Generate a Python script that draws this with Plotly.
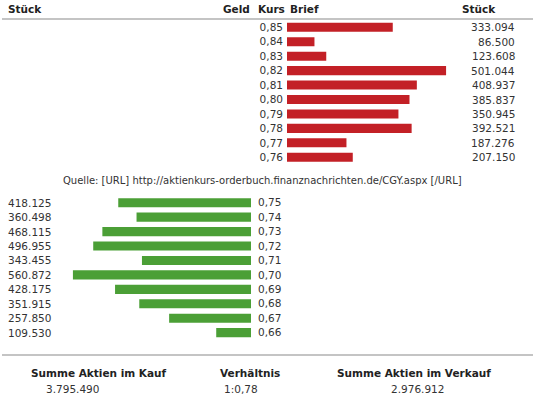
import plotly.graph_objects as go

# Orderbuch (Brief = Verkauf, Geld = Kauf)
brief_kurs = ["0,85", "0,84", "0,83", "0,82", "0,81", "0,80", "0,79", "0,78", "0,77", "0,76"]
brief_stueck = [333094, 86500, 123608, 501044, 408937, 385837, 350945, 392521, 187276, 207150]

geld_kurs = ["0,75", "0,74", "0,73", "0,72", "0,71", "0,70", "0,69", "0,68", "0,67", "0,66"]
geld_stueck = [418125, 360498, 468115, 496955, 343455, 560872, 428175, 351915, 257850, 109530]

summe_kauf = "3.795.490"
summe_verkauf = "2.976.912"
verhaeltnis = "1:0,78"
quelle = "Quelle: [URL] http://aktienkurs-orderbuch.finanznachrichten.de/CGY.aspx [/URL]"

W, H = 535, 406
FONT = "DejaVu Sans"
TXT = "#333333"
RED = "#c32026"
GREEN = "#4b9f36"


def fmt(v):
    return f"{v:,}".replace(",", ".")


def px(x):
    return x / W


def py(y):
    return 1 - y / H


fig = go.Figure()
fig.add_trace(go.Bar(x=brief_stueck, y=brief_kurs, orientation="h",
                     marker=dict(color=RED, line=dict(width=0)),
                     xaxis="x", yaxis="y", hoverinfo="x+y"))
fig.add_trace(go.Bar(x=geld_stueck, y=geld_kurs, orientation="h",
                     marker=dict(color=GREEN, line=dict(width=0)),
                     xaxis="x2", yaxis="y2", hoverinfo="x+y"))

row = 14.44
ann = []
for k, v in zip(brief_kurs, brief_stueck):
    ann.append(dict(x=px(517), y=k, xref="paper", yref="y", text=fmt(v),
                    xanchor="right", showarrow=False))
for k, v in zip(geld_kurs, geld_stueck):
    ann.append(dict(x=px(6), y=k, xref="paper", yref="y2", text=fmt(v),
                    xanchor="left", showarrow=False))

bold = dict(family=FONT, size=10.5, color="#222222")
ann += [
    dict(x=px(6), y=py(9), text="<b>Stück</b>", xanchor="left", font=bold),
    dict(x=px(252), y=py(9), text="<b>Geld</b>", xanchor="right", font=bold),
    dict(x=px(256), y=py(9), text="<b>Kurs</b>", xanchor="left", font=bold),
    dict(x=px(288), y=py(9), text="<b>Brief</b>", xanchor="left", font=bold),
    dict(x=px(498), y=py(9), text="<b>Stück</b>", xanchor="right", font=bold),
    dict(x=px(262), y=py(181), text=quelle, xanchor="center", font=dict(family=FONT, size=10, color=TXT)),
    dict(x=px(99), y=py(373), text="<b>Summe Aktien im Kauf</b>", xanchor="center", font=bold),
    dict(x=px(44), y=py(389), text=summe_kauf, xanchor="left"),
    dict(x=px(250), y=py(373), text="<b>Verhältnis</b>", xanchor="center", font=bold),
    dict(x=px(222), y=py(389), text=verhaeltnis, xanchor="left"),
    dict(x=px(414), y=py(373), text="<b>Summe Aktien im Verkauf</b>", xanchor="center", font=bold),
    dict(x=px(417), y=py(389), text=summe_verkauf, xanchor="center"),
]
for a in ann[20:]:
    a.setdefault("xref", "paper")
    a.setdefault("yref", "paper")
    a["showarrow"] = False
    a["yanchor"] = "middle"

line = dict(color="#c4c4c4", width=2)
shapes = [
    dict(type="line", xref="paper", yref="paper", x0=px(2), x1=px(533), y0=py(19), y1=py(19), line=line),
    dict(type="line", xref="paper", yref="paper", x0=px(2), x1=px(533), y0=py(355), y1=py(355), line=line),
]

scale = 0.3175 / 1000  # px per Stück
fig.update_layout(
    width=W, height=H,
    margin=dict(l=0, r=0, t=0, b=0),
    paper_bgcolor="white", plot_bgcolor="white",
    showlegend=False,
    bargap=0.37,
    font=dict(family=FONT, size=10.5, color=TXT),
    annotations=ann,
    shapes=shapes,
    xaxis=dict(domain=[px(287), 1], range=[0, (W - 287) / scale],
               visible=False, fixedrange=True),
    yaxis=dict(domain=[py(27.3 + 9 * row + row / 2), py(27.3 - row / 2)],
               type="category", range=[9.5, -0.5], anchor="x",
               showgrid=False, zeroline=False, showline=False, ticks="",
               ticklabelstandoff=3, tickfont=dict(family=FONT, size=10.5, color=TXT)),
    xaxis2=dict(domain=[0, px(251)], range=[251 / scale, 0], anchor="y2",
                visible=False, fixedrange=True),
    yaxis2=dict(domain=[py(202.7 + 9 * row + row / 2), py(202.7 - row / 2)],
                type="category", range=[9.5, -0.5], anchor="x2", side="right",
                showgrid=False, zeroline=False, showline=False, ticks="",
                ticklabelstandoff=6, tickfont=dict(family=FONT, size=10.5, color=TXT)),
)

# Browser-Standardrand entfernen, damit die Grafik bei (0,0) beginnt
fig.write_html("out.html", config={"displayModeBar": False},
               post_script="document.body.style.margin='0';")
